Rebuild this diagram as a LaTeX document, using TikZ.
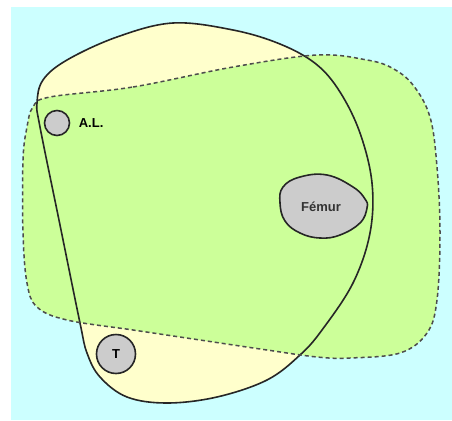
\documentclass[tikz,border=0pt]{standalone}
\usepackage{fontspec}
\setmainfont{Liberation Sans}
\usepackage{tikz}
\usetikzlibrary{positioning}

\definecolor{skycyan}{RGB}{204,255,255}
\definecolor{paleyellow}{RGB}{255,255,204}
\definecolor{palegreen}{RGB}{204,255,153}
\definecolor{bonegray}{RGB}{204,204,204}

\begin{document}
\begin{tikzpicture}[x=1pt, y=-1pt,
  every node/.style={font=\fontsize{13}{15}\selectfont\bfseries},
  outline/.style={draw=black!85, line width=1.6pt},
  dashline/.style={draw=black!70, line width=1.5pt, dash pattern=on 4pt off 3pt},
  bone/.style={circle, draw=black!85, fill=bonegray, line width=1.6pt, inner sep=0pt}]

  \useasboundingbox (0,0) rectangle (452,420);
  \fill[skycyan] (11,7) rectangle (452,420);

  % solid contour
  \fill[paleyellow] plot[smooth cycle, tension=0.6] coordinates {
    (67,60) (117,37) (173,23) (233,30) (280,44) (316,64) (340,92) (360,133)
    (372,183) (370,233) (353,283) (322,330) (300,355) (267,380) (217,397)
    (167,403) (127,397) (100,377) (87,353) (80,323) (60,225) (40,127) (37,103) (43,80)};

  % dashed contour
  \fill[palegreen] plot[smooth cycle, tension=0.6] coordinates {
    (50,97) (133,87) (233,67) (317,55) (367,60) (392,68) (413,85) (430,117)
    (437,167) (440,233) (437,300) (427,333) (400,353) (350,358) (317,357)
    (267,350) (200,340) (133,330) (67,320) (37,307) (27,283) (23,233)
    (23,160) (27,127) (33,107)};

  \draw[outline] plot[smooth cycle, tension=0.6] coordinates {
    (67,60) (117,37) (173,23) (233,30) (280,44) (316,64) (340,92) (360,133)
    (372,183) (370,233) (353,283) (322,330) (300,355) (267,380) (217,397)
    (167,403) (127,397) (100,377) (87,353) (80,323) (60,225) (40,127) (37,103) (43,80)};
  \draw[dashline] plot[smooth cycle, tension=0.6] coordinates {
    (50,97) (133,87) (233,67) (317,55) (367,60) (392,68) (413,85) (430,117)
    (437,167) (440,233) (437,300) (427,333) (400,353) (350,358) (317,357)
    (267,350) (200,340) (133,330) (67,320) (37,307) (27,283) (23,233)
    (23,160) (27,127) (33,107)};

  % bones
  \filldraw[outline, fill=bonegray] plot[smooth cycle, tension=0.7] coordinates {
    (283,187) (300,177) (327,175) (353,187) (365,199) (367,208) (360,223)
    (340,235) (320,238) (300,233) (285,221) (280,203)};
  \node[text=black!80] (femur) at (321,207) {Fémur};

  \node[bone, minimum size=25pt] (al) at (57,123) {};
  \node[right=5pt of al] (allabel) {A.L.};

  \node[bone, minimum size=39pt] (tib) at (116,354) {T};
\end{tikzpicture}
\end{document}
